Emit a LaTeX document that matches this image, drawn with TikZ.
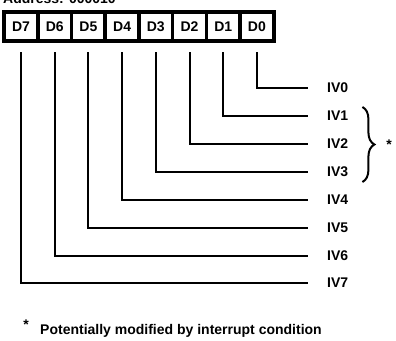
\documentclass[tikz,border=0pt]{standalone}
\usepackage{fontspec}
\setmainfont{Liberation Sans}
\usepackage{tikz}
\usetikzlibrary{positioning,calc,decorations.pathreplacing}

\begin{document}
\begin{tikzpicture}[x=1pt, y=-1pt, font=\fontsize{14}{16}\selectfont\bfseries,
  cell/.style={draw, line width=3.6pt, minimum width=33.7pt, minimum height=29pt, inner sep=0pt, outer sep=0pt},
  ivlab/.style={anchor=west, inner sep=0pt},
  wire/.style={line width=2pt, shorten <=11pt, shorten >=19pt},
  brc/.style={line width=2pt, decorate, decoration={brace, amplitude=12pt}}]
\useasboundingbox (0,0) rectangle (396,340);
\node[anchor=base west, inner sep=0pt] (addr) at (3,4) {Address: 000010};
% register bits
\node[cell] (d7) at (21,26.5) {D7};
\node[cell, right=0pt of d7] (d6) {D6};
\node[cell, right=0pt of d6] (d5) {D5};
\node[cell, right=0pt of d5] (d4) {D4};
\node[cell, right=0pt of d4] (d3) {D3};
\node[cell, right=0pt of d3] (d2) {D2};
\node[cell, right=0pt of d2] (d1) {D1};
\node[cell, right=0pt of d1] (d0) {D0};
% vector labels
\node[ivlab] (iv0) at (327,88) {IV0};
\node[ivlab] (iv1) at (327,116) {IV1};
\node[ivlab] (iv2) at (327,144) {IV2};
\node[ivlab] (iv3) at (327,172) {IV3};
\node[ivlab] (iv4) at (327,199.5) {IV4};
\node[ivlab] (iv5) at (327,227.5) {IV5};
\node[ivlab] (iv6) at (327,255.5) {IV6};
\node[ivlab] (iv7) at (327,283) {IV7};
\draw[wire] (d0.south) |- (iv0.west); \draw[wire] (d1.south) |- (iv1.west);
\draw[wire] (d2.south) |- (iv2.west); \draw[wire] (d3.south) |- (iv3.west);
\draw[wire] (d4.south) |- (iv4.west); \draw[wire] (d5.south) |- (iv5.west);
\draw[wire] (d6.south) |- (iv6.west); \draw[wire] (d7.south) |- (iv7.west);
\draw[brc] ($(iv2.east)+(14,-37)$) -- ($(iv2.east)+(14,38)$)
  node[midway, right=23pt, inner sep=0pt] (mark) {*};
\node[anchor=base west, inner sep=0pt] (foot) at (40,334) {Potentially modified by interrupt condition};
\node[anchor=base east, inner sep=0pt] (fmark) at ($(foot.base west)+(-11,-5)$) {*};
\end{tikzpicture}
\end{document}
